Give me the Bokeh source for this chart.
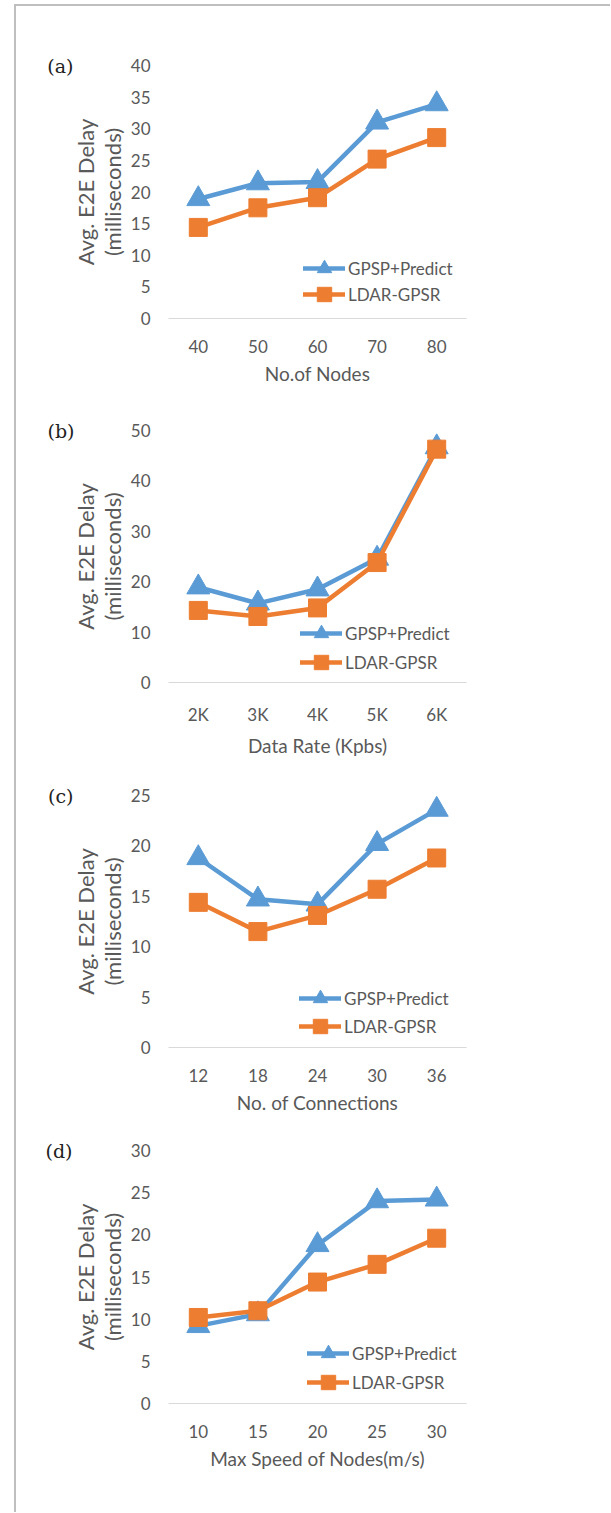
from bokeh.plotting import figure
from bokeh.models import FactorRange, Range1d, FixedTicker, Div, Spacer, Legend, LinearAxis
from bokeh.layouts import column, row
from bokeh.embed import file_html
from bokeh.resources import INLINE

# ---------------- data ----------------
nodes = ["40", "50", "60", "70", "80"]
gpsp_nodes = [18.9, 21.4, 21.6, 31.0, 33.9]
ldar_nodes = [14.4, 17.5, 19.1, 25.2, 28.6]

rates = ["2K", "3K", "4K", "5K", "6K"]
gpsp_rates = [18.9, 15.7, 18.5, 24.6, 46.7]
ldar_rates = [14.3, 13.1, 14.8, 23.8, 46.3]

conns = ["12", "18", "24", "30", "36"]
gpsp_conns = [18.8, 14.7, 14.2, 20.2, 23.6]
ldar_conns = [14.4, 11.5, 13.1, 15.7, 18.8]

speeds = ["10", "15", "20", "25", "30"]
gpsp_speeds = [9.2, 10.6, 18.8, 24.0, 24.2]
ldar_speeds = [10.2, 11.0, 14.4, 16.5, 19.6]

ticks_a = [0, 5, 10, 15, 20, 25, 30, 35, 40]
ticks_b = [0, 10, 20, 30, 40, 50]
ticks_c = [0, 5, 10, 15, 20, 25]
ticks_d = [0, 5, 10, 15, 20, 25, 30]

series_names = ["GPSP+Predict", "LDAR-GPSR"]
ytitle1 = "Avg. E2E Delay"
ytitle2 = "(milliseconds)"

# ---------------- style ----------------
BLUE = "#5B9BD5"
ORANGE = "#ED7D31"
GRAY = "#595959"
FONT = "Lato"
FS = "17px"
FS_X = "19px"
FS_Y = "22px"
FIG_W = 587


def bare_axis(ax):
    ax.axis_line_color = None
    ax.major_tick_out = 0
    ax.major_tick_in = 0
    ax.minor_tick_out = 0
    ax.minor_tick_in = 0


def make_panel(tag, cats, gpsp, ldar, xtitle, ticks, geom):
    (fig_h, b_top, f_left, f_h, f_w, leg_x, leg_y1, leg_y2, tag_standoff) = geom
    ymax = ticks[-1]
    p = figure(width=FIG_W, height=fig_h,
               x_range=FactorRange(*cats, range_padding=0),
               y_range=Range1d(ticks[0], ymax),
               output_backend="svg", toolbar_location=None,
               min_border_left=f_left, min_border_right=FIG_W - f_left - f_w,
               min_border_top=b_top, min_border_bottom=fig_h - b_top - f_h)
    p.outline_line_color = None
    p.xgrid.visible = False
    p.ygrid.visible = False
    p.background_fill_color = None
    p.border_fill_color = None

    r1 = p.line(cats, gpsp, line_color=BLUE, line_width=4.5, line_join="round", line_cap="round")
    s1 = p.scatter(cats, gpsp, marker="triangle", size=23, fill_color=BLUE, line_color=BLUE)
    r2 = p.line(cats, ldar, line_color=ORANGE, line_width=4.5, line_join="round", line_cap="round")
    s2 = p.scatter(cats, ldar, marker="square", size=18, fill_color=ORANGE, line_color=ORANGE)

    ax = p.xaxis[0]
    ax.axis_line_color = "#D9D9D9"
    ax.axis_line_width = 1
    ax.major_tick_out = 0
    ax.major_tick_in = 0
    ax.major_label_standoff = 21
    ax.major_label_text_font = FONT
    ax.major_label_text_font_size = FS
    ax.major_label_text_color = GRAY
    ax.axis_label = xtitle
    ax.axis_label_standoff = 6
    ax.axis_label_text_font = FONT
    ax.axis_label_text_font_size = FS_X
    ax.axis_label_text_font_style = "normal"
    ax.axis_label_text_color = GRAY

    # inner y axis: tick labels + second title line
    ay = p.yaxis[0]
    ay.ticker = FixedTicker(ticks=ticks)
    bare_axis(ay)
    ay.major_label_standoff = 18
    ay.major_label_text_font = FONT
    ay.major_label_text_font_size = FS
    ay.major_label_text_color = GRAY
    ay.axis_label = ytitle2
    ay.axis_label_standoff = 2
    ay.axis_label_text_font = FONT
    ay.axis_label_text_font_size = FS_Y
    ay.axis_label_text_font_style = "normal"
    ay.axis_label_text_color = GRAY

    # middle y axis: first title line only
    ay2 = LinearAxis(ticker=FixedTicker(ticks=[]), axis_label=ytitle1)
    bare_axis(ay2)
    ay2.major_label_standoff = 0
    ay2.axis_label_standoff = -3
    ay2.axis_label_text_font = FONT
    ay2.axis_label_text_font_size = FS_Y
    ay2.axis_label_text_font_style = "normal"
    ay2.axis_label_text_color = GRAY
    p.add_layout(ay2, "left")

    # outer y axis: panel tag at the top of the value axis
    ay3 = LinearAxis(ticker=FixedTicker(ticks=[ymax]), major_label_overrides={ymax: tag})
    bare_axis(ay3)
    ay3.major_label_standoff = tag_standoff
    ay3.major_label_text_font = "DejaVu Serif"
    ay3.major_label_text_font_size = "19px"
    ay3.major_label_text_color = "#222222"
    p.add_layout(ay3, "left")

    for name, rs, ly in ((series_names[0], [r1, s1], leg_y1), (series_names[1], [r2, s2], leg_y2)):
        leg = Legend(items=[(name, rs)],
                     location=(leg_x, ly), glyph_width=42, glyph_height=36, spacing=0,
                     padding=0, margin=0, label_standoff=3,
                     label_text_font=FONT, label_text_font_size=FS, label_text_color=GRAY,
                     border_line_color=None, background_fill_alpha=0)
        p.add_layout(leg)
    return p


# geom: fig_h, b_top, f_left, f_h, f_w, leg_x, leg_y1, leg_y2, tag_standoff
pa = make_panel("(a)", nodes, gpsp_nodes, ldar_nodes, "No.of Nodes", ticks_a,
                (389, 59, 152, 253, 300, 135, 32, 6, -5))
pb = make_panel("(b)", rates, gpsp_rates, ldar_rates, "Data Rate (Kpbs)", ticks_b,
                (370, 35, 150, 252, 300, 132, 31, 2, -6))
pc = make_panel("(c)", conns, gpsp_conns, ldar_conns, "No. of Connections", ticks_c,
                (360, 30, 152, 252, 300, 131, 31, 3, -5))
pd = make_panel("(d)", speeds, gpsp_speeds, ldar_speeds, "Max Speed of Nodes(m/s)", ticks_d,
                (387, 25, 147, 253, 305, 139, 32, 3, -4))

top_line = Div(text="", width=596, height=2, margin=0, styles={"background-color": "#BFBFBF"})
left_line = Div(text="", width=2, height=1506, margin=0, styles={"background-color": "#BFBFBF"})
figs = column(pa, pb, pc, pd, spacing=0)
layout = row(Spacer(width=14, height=10, margin=0),
             column(Spacer(width=10, height=4, margin=0), top_line,
                    row(left_line, figs, spacing=0), spacing=0),
             spacing=0)

open("out.html", "w").write(file_html(layout, INLINE))
